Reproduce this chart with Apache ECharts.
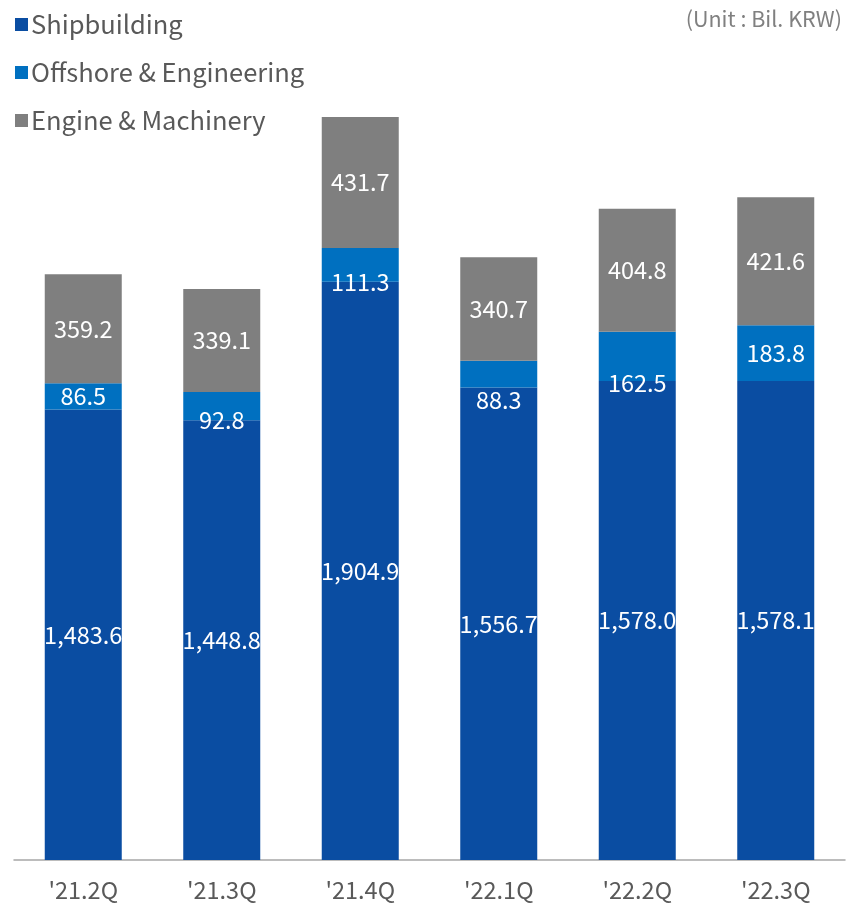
<!DOCTYPE html>
<html><head><meta charset="utf-8">
<script src="https://cdn.jsdelivr.net/npm/echarts@6/dist/echarts.min.js"></script>
<style>html,body{margin:0;padding:0;background:#fff}#c{width:847px;height:904px}</style>
</head><body><div id="c"></div>
<script>
const categories = ["'21.2Q", "'21.3Q", "'21.4Q", "'22.1Q", "'22.2Q", "'22.3Q"];
const shipbuilding = [1483.6, 1448.8, 1904.9, 1556.7, 1578.0, 1578.1];
const offshore = [86.5, 92.8, 111.3, 88.3, 162.5, 183.8];
const engine = [359.2, 339.1, 431.7, 340.7, 404.8, 421.6];
const offshoreLabelShift = [0, 14, 17, 26, 27, 0];

const FONT = '"Noto Sans CJK KR", "Noto Sans", sans-serif';
const fmt = v => v.toLocaleString('en-US', {minimumFractionDigits: 1, maximumFractionDigits: 1});
const lbl = {show: true, position: 'inside', color: '#fff', fontSize: 23.5, fontFamily: FONT,
  formatter: p => fmt(p.value)};

const chart = echarts.init(document.getElementById('c'), null, {renderer: 'canvas'});
chart.setOption({
  animation: false,
  textStyle: {fontFamily: FONT},
  title: {text: '(Unit : Bil. KRW)', right: 0, top: 3,
    textStyle: {color: '#808080', fontSize: 21.5, fontWeight: 'normal', fontFamily: FONT}},
  legend: {orient: 'vertical', left: 10, top: 5, itemWidth: 13, itemHeight: 13, itemGap: 19,
    icon: 'rect', textStyle: {color: '#595959', fontSize: 25.5, fontFamily: FONT, lineHeight: 29, padding: [0, 0, 0, -2]},
    data: ['Shipbuilding', 'Offshore & Engineering', 'Engine & Machinery']},
  grid: {left: 14, right: 2, top: 10, bottom: 44},
  xAxis: {type: 'category', data: categories,
    axisLine: {lineStyle: {color: '#A6A6A6', width: 1.5}}, axisTick: {show: false},
    axisLabel: {color: '#595959', fontSize: 23.5, fontFamily: FONT, margin: 18}},
  yAxis: {type: 'value', min: 0, max: 2800, show: false, splitLine: {show: false}},
  series: [
    {name: 'Shipbuilding', type: 'bar', stack: 's', barWidth: 77, data: shipbuilding,
     itemStyle: {color: '#0A4DA2'}, label: lbl},
    {name: 'Offshore & Engineering', type: 'bar', stack: 's', barWidth: 77,
     data: offshore.map((v, i) => ({value: v, label: {offset: [0, offshoreLabelShift[i]]}})),
     itemStyle: {color: '#0070C0'}, label: lbl},
    {name: 'Engine & Machinery', type: 'bar', stack: 's', barWidth: 77, data: engine,
     itemStyle: {color: '#7F7F7F'}, label: lbl}
  ]
});
</script></body></html>
